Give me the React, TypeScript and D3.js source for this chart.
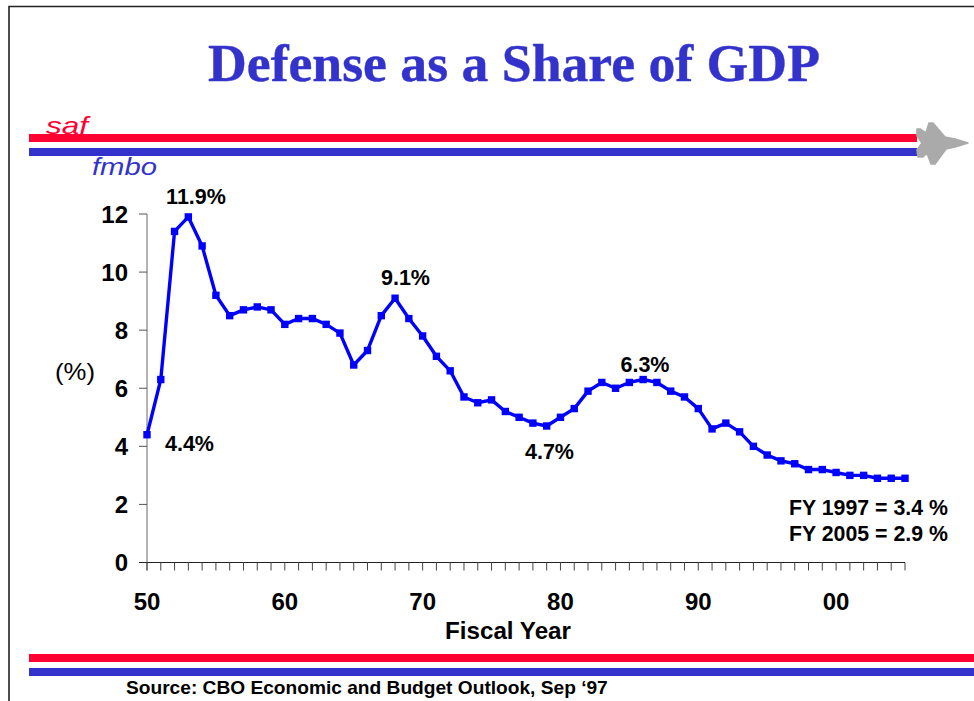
import React from "react";
import * as d3 from "d3";

const years = d3.range(0, 56).map((i) => 1950 + i);
const shares = [
  4.4, 6.3, 11.4, 11.9, 10.9, 9.2, 8.5, 8.7, 8.8, 8.7,
  8.2, 8.4, 8.4, 8.2, 7.9, 6.8, 7.3, 8.5, 9.1, 8.4,
  7.8, 7.1, 6.6, 5.7, 5.5, 5.6, 5.2, 5.0, 4.8, 4.7,
  5.0, 5.3, 5.9, 6.2, 6.0, 6.2, 6.3, 6.2, 5.9, 5.7,
  5.3, 4.6, 4.8, 4.5, 4.0, 3.7, 3.5, 3.4, 3.2, 3.2,
  3.1, 3.0, 3.0, 2.9, 2.9, 2.9,
];
const yTicks = [0, 2, 4, 6, 8, 10, 12];
const xLabels = [
  { year: 1950, label: "50" },
  { year: 1960, label: "60" },
  { year: 1970, label: "70" },
  { year: 1980, label: "80" },
  { year: 1990, label: "90" },
  { year: 2000, label: "00" },
];
const callouts = [
  { text: "11.9%", x: 196, y: 204 },
  { text: "9.1%", x: 405.5, y: 285 },
  { text: "6.3%", x: 645, y: 372 },
  { text: "4.7%", x: 549.5, y: 459 },
  { text: "4.4%", x: 189.5, y: 451 },
];
const notes = [
  { text: "FY 1997 = 3.4 %", x: 789, y: 515 },
  { text: "FY 2005 = 2.9 %", x: 789, y: 541 },
];

const RED = "#ff0033";
const INDIGO = "#3333cc";
const BLUE = "#0000ff";
const SANS = "Liberation Sans, Arial, sans-serif";
const SERIF = "Liberation Serif, Times New Roman, serif";

const JET =
  "M917 129 L920 129 L926 133 L929 123 L933 123 L945 137 L955 139 L968 143 L955 147 L946 149 L935 164 L931 164 L927 153 L923 157 L918 157 L917 150 L922 143 L917 136 Z";

export default function App() {
  const x = d3.scaleLinear().domain([1950, 2005]).range([147, 905]);
  const y = d3.scaleLinear().domain([0, 12]).range([562.5, 214]);
  const line = d3
    .line<number>()
    .x((_, i) => x(years[i]))
    .y((d) => y(d));

  return (
    <svg
      width={974}
      height={701}
      style={{ position: "absolute", left: 0, top: 0, display: "block" }}
    >
      <rect width={974} height={701} fill="#ffffff" />
      <path d="M9 701 V6.5 H974" fill="none" stroke="#222222" strokeWidth={1.6} />
      <text
        x={514}
        y={81}
        textAnchor="middle"
        fontFamily={SERIF}
        fontWeight="bold"
        fontSize={53.7}
        fill={INDIGO}
        stroke={INDIGO}
        strokeWidth={0.4}
      >
        Defense as a Share of GDP
      </text>

      <rect x={29} y={134} width={888} height={8} fill={RED} />
      <rect x={29} y={148} width={888} height={8} fill={INDIGO} />
      <rect x={29} y={654} width={945} height={8} fill={RED} />
      <rect x={29} y={668} width={945} height={8} fill={INDIGO} />
      <text x={46} y={134} fontFamily={SANS} fontStyle="italic" fontSize={24} fill={RED} textLength={42} lengthAdjust="spacingAndGlyphs">
        saf
      </text>
      <text x={92} y={175} fontFamily={SANS} fontStyle="italic" fontSize={24} fill={INDIGO} textLength={65} lengthAdjust="spacingAndGlyphs">
        fmbo
      </text>
      <path d={JET} fill="#aaaaaa" stroke="#aaaaaa" strokeWidth={1.6} strokeLinejoin="round" />

      <line x1={147} x2={147} y1={y(12)} y2={y(0) + 8} stroke="#808080" strokeWidth={1.2} />
      {yTicks.map((t) => (
        <g key={t}>
          <line x1={139} x2={147} y1={y(t)} y2={y(t)} stroke="#555555" strokeWidth={1} />
          <text
            x={128}
            y={y(t) + 8.5}
            textAnchor="end"
            fontFamily={SANS}
            fontWeight="bold"
            fontSize={24}
            fill="#000"
          >
            {t}
          </text>
        </g>
      ))}
      <line x1={139} x2={x(2005)} y1={y(0)} y2={y(0)} stroke="#222222" strokeWidth={1} />
      {years.map((yr) => (
        <line
          key={yr}
          x1={x(yr)}
          x2={x(yr)}
          y1={y(0)}
          y2={y(0) + 8}
          stroke="#444444"
          strokeWidth={1}
        />
      ))}
      {xLabels.map((l) => (
        <text
          key={l.label}
          x={x(l.year)}
          y={610}
          textAnchor="middle"
          fontFamily={SANS}
          fontWeight="bold"
          fontSize={24}
          fill="#000"
        >
          {l.label}
        </text>
      ))}
      <text x={508} y={639} textAnchor="middle" fontFamily={SANS} fontWeight="bold" fontSize={24} fill="#000" textLength={126} lengthAdjust="spacingAndGlyphs">
        Fiscal Year
      </text>
      <text x={55} y={380} fontFamily={SANS} fontSize={24} fill="#000" textLength={40} lengthAdjust="spacingAndGlyphs">
        (%)
      </text>

      <path d={line(shares) ?? ""} fill="none" stroke={BLUE} strokeWidth={3.4} strokeLinejoin="round" />
      {shares.map((v, i) => (
        <rect key={i} x={x(years[i]) - 3.7} y={y(v) - 3.7} width={7.4} height={7.4} fill={BLUE} />
      ))}

      {callouts.map((c) => (
        <text
          key={c.text}
          x={c.x}
          y={c.y}
          textAnchor="middle"
          fontFamily={SANS}
          fontWeight="bold"
          fontSize={21.5}
          fill="#000"
        >
          {c.text}
        </text>
      ))}
      {notes.map((n) => (
        <text key={n.text} x={n.x} y={n.y} fontFamily={SANS} fontWeight="bold" fontSize={21.3} fill="#000">
          {n.text}
        </text>
      ))}
      <text x={126} y={694} fontFamily={SANS} fontWeight="bold" fontSize={19.15} fill="#000">
        Source: CBO Economic and Budget Outlook, Sep ‘97
      </text>
    </svg>
  );
}
